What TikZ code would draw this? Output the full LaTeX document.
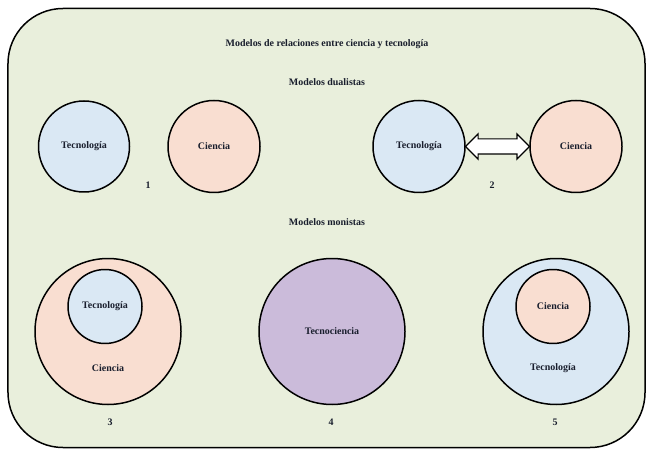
\documentclass[tikz,border=0pt]{standalone}
\usepackage{fontspec}
\setmainfont{Liberation Serif}
\usetikzlibrary{shapes.arrows,calc}
\definecolor{bgc}{RGB}{233,239,220}
\definecolor{techc}{RGB}{218,232,244}
\definecolor{scic}{RGB}{249,222,209}
\definecolor{tscic}{RGB}{203,187,218}
\definecolor{txtc}{RGB}{25,30,45}
\tikzset{
  ring/.style={circle, draw=black, line width=1.5pt, inner sep=0pt},
  lbl/.style={font=\bfseries\fontsize{10}{12}\selectfont, text=txtc, inner sep=0pt}
}
\begin{document}
\begin{tikzpicture}[x=1bp,y=-1bp]
\useasboundingbox (0,0) rectangle (647,454);
\fill[white] (0,0) rectangle (647,454);
\node[draw=black, fill=bgc, line width=1.5pt, rounded corners=55bp, minimum width=637bp, minimum height=439bp, inner sep=0pt] (frame) at (326.5,228) {};
\node[lbl] (title) at (327,44) {Modelos de relaciones entre ciencia y tecnología};
\node[lbl] (dual) at (327,82) {Modelos dualistas};
% model 1
\node[ring, fill=techc, minimum size=91bp, lbl] (t1) at (84,146.5) {Tecnología};
\node[ring, fill=scic, minimum size=92bp, lbl] (c1) at (214,146.5) {Ciencia};
\node[lbl] (n1) at (148,185) {1};
% model 2
\node[ring, fill=techc, minimum size=92bp, lbl] (t2) at (419,146.5) {Tecnología};
\node[ring, fill=scic, minimum size=92bp, lbl] (c2) at (576,146.5) {Ciencia};
\node[double arrow, draw=black, fill=white, line width=1.2pt, minimum width=24bp, minimum height=64bp, double arrow head extend=5bp, inner sep=0pt] (arr) at ($(t2.east)!0.5!(c2.west)$) {\rule{0pt}{14bp}};
\node[lbl] (n2) at (492,185) {2};
\node[lbl] (mono) at (327,222) {Modelos monistas};
% model 3
\node[ring, fill=scic, minimum size=146bp] (c3) at (108,331.5) {};
\node[ring, fill=techc, minimum size=74bp, lbl] (t3) at (105,306.5) {Tecnología};
\node[lbl] (c3l) at (108,368) {Ciencia};
\node[lbl] (n3) at (110,422) {3};
% model 4
\node[ring, fill=tscic, minimum size=146bp, lbl] (ts4) at (332,331.5) {Tecnociencia};
\node[lbl] (n4) at (331,422) {4};
% model 5
\node[ring, fill=techc, minimum size=146bp] (t5) at (556,331.5) {};
\node[ring, fill=scic, minimum size=74bp, lbl] (c5) at (553,306.5) {Ciencia};
\node[lbl] (t5l) at (553,368) {Tecnología};
\node[lbl] (n5) at (555,422) {5};
\end{tikzpicture}
\end{document}
